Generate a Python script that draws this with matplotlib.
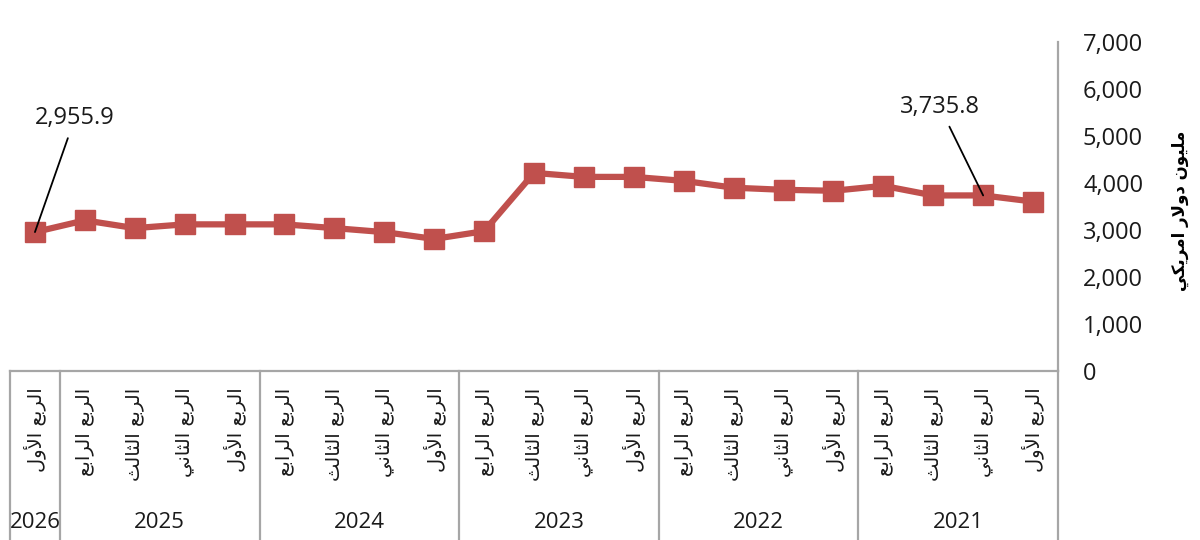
import matplotlib
matplotlib.use('Agg')
import matplotlib.pyplot as plt

# chronological data, million US dollars
years = ['2021', '2022', '2023', '2024', '2025', '2026']
quarter_names = ['الربع الأول', 'الربع الثاني', 'الربع الثالث', 'الربع الرابع']
values_2021 = [3605, 3735.8, 3735, 3940]
values_2022 = [3835, 3855, 3900, 4045]
values_2023 = [4130, 4130, 4215, 2975]
values_2024 = [2810, 2955, 3040, 3120]
values_2025 = [3120, 3120, 3040, 3205]
values_2026 = [2955.9]
y_label = 'مليون دولار امريكي'
y_ticks = [0, 1000, 2000, 3000, 4000, 5000, 6000, 7000]

series = [values_2021, values_2022, values_2023, values_2024, values_2025, values_2026]
values = [v for s in series for v in s]
quarters = [quarter_names[q] for s in series for q in range(len(s))]
x = list(range(len(values)))

# matplotlib has no arabic shaping, so pick presentation forms by hand
# (isolated, final, initial, medial)
FORMS = {
    'ا': ('\uFE8D', '\uFE8E', None, None),
    'أ': ('\uFE83', '\uFE84', None, None),
    'ب': ('\uFE8F', '\uFE90', '\uFE91', '\uFE92'),
    'ث': ('\uFE99', '\uFE9A', '\uFE9B', '\uFE9C'),
    'د': ('\uFEA9', '\uFEAA', None, None),
    'ر': ('\uFEAD', '\uFEAE', None, None),
    'ع': ('\uFEC9', '\uFECA', '\uFECB', '\uFECC'),
    'ك': ('\uFED9', '\uFEDA', '\uFEDB', '\uFEDC'),
    'ل': ('\uFEDD', '\uFEDE', '\uFEDF', '\uFEE0'),
    'م': ('\uFEE1', '\uFEE2', '\uFEE3', '\uFEE4'),
    'ن': ('\uFEE5', '\uFEE6', '\uFEE7', '\uFEE8'),
    'و': ('\uFEED', '\uFEEE', None, None),
    'ي': ('\uFEF1', '\uFEF2', '\uFEF3', '\uFEF4'),
    'لا': ('\uFEFB', '\uFEFC', None, None),
    'لأ': ('\uFEF7', '\uFEF8', None, None),
}


def shape(text):
    words = []
    for word in text.split(' '):
        units = []
        i = 0
        while i < len(word):
            if word[i] == 'ل' and i + 1 < len(word) and word[i + 1] in 'اأ':
                units.append(word[i:i + 2])
                i += 2
            else:
                units.append(word[i])
                i += 1
        glyphs = []
        for k, u in enumerate(units):
            f = FORMS.get(u)
            if f is None:
                glyphs.append(u)
                continue
            prev = k > 0 and FORMS.get(units[k - 1], (0, 0, None))[2] is not None
            nxt = k < len(units) - 1 and f[2] is not None
            if prev and nxt:
                glyphs.append(f[3])
            elif prev:
                glyphs.append(f[1])
            elif nxt:
                glyphs.append(f[2])
            else:
                glyphs.append(f[0])
        words.append(''.join(glyphs))
    return ' '.join(words)[::-1]


plt.rcParams['font.family'] = ['Open Sans', 'DejaVu Sans']
red = '#C0504D'
grid_gray = '#A6A6A6'
text_col = '#1a1a1a'

fig = plt.figure(figsize=(12, 5.4), dpi=100)
ax = fig.add_axes([10 / 1200, 1 - 371 / 540, 1048 / 1200, 329 / 540])

ax.plot(x, values, color=red, lw=4.5, marker='s', ms=14, mfc=red, mec=red, zorder=3)

ax.set_xlim(len(values) - 0.5, -0.5)
ax.set_ylim(0, 7000)
ax.yaxis.tick_right()
ax.set_yticks(y_ticks)
ax.set_yticklabels([f'{t:,}' for t in y_ticks], fontsize=17, color=text_col)
ax.tick_params(axis='y', length=0, pad=18)

ax.set_xticks(x)
ax.set_xticklabels([shape(q) for q in quarters], rotation=90, fontsize=14,
                   family=['DejaVu Sans'], color=text_col)
ax.tick_params(axis='x', length=0, pad=12)

for side in ['top', 'left']:
    ax.spines[side].set_visible(False)
ax.spines['bottom'].set_color(grid_gray)
ax.spines['bottom'].set_linewidth(1.6)
ax.spines['right'].set_color(grid_gray)
ax.spines['right'].set_linewidth(1.6)

# multi-level category box under the axis
trans = ax.get_xaxis_transform()
start = 0
bounds = [-0.5]
for yr, s in zip(years, series):
    end = start + len(s)
    bounds.append(end - 0.5)
    ax.text((start + end - 1) / 2, -0.462, yr, transform=trans, ha='center',
            va='center', fontsize=16, color=text_col)
    start = end
for b in bounds:
    ax.plot([b, b], [0, -0.7], transform=trans, color=grid_gray, lw=1.6,
            clip_on=False)

ax.annotate('2,955.9', xy=(x[-1], values[-1]), xytext=(19.2, 5380),
            ha='center', va='center', fontsize=17, color=text_col,
            arrowprops=dict(arrowstyle='-', color='black', lw=1.3,
                            shrinkA=4, shrinkB=0))
ax.annotate('3,735.8', xy=(x[1], values[1]), xytext=(1.87, 5620),
            ha='center', va='center', fontsize=17, color=text_col,
            arrowprops=dict(arrowstyle='-', color='black', lw=1.3,
                            shrinkA=4, shrinkB=0))

fig.text(1180 / 1200, 1 - 211 / 540, shape(y_label), rotation=90, ha='center',
         va='center', fontsize=12, fontweight='bold', family=['DejaVu Sans'])

fig.savefig('out.png', dpi=100)
